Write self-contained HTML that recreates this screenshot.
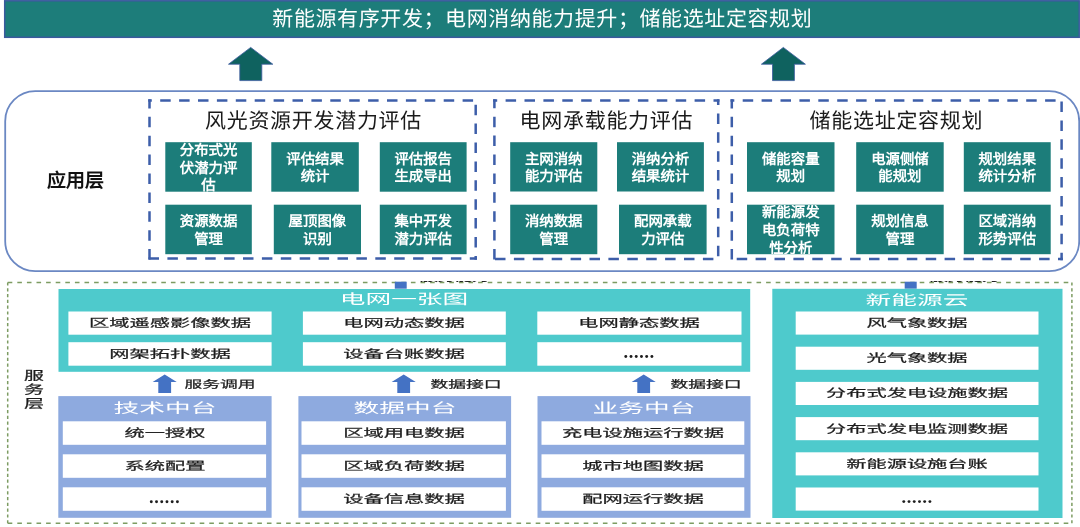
<!DOCTYPE html>
<html lang="zh-CN"><head><meta charset="utf-8"><title>diagram</title><style>
*{margin:0;padding:0;box-sizing:border-box}
html,body{width:1080px;height:527px;overflow:hidden;background:#fff}
body{position:relative;font-family:"Liberation Sans",sans-serif;text-rendering:geometricPrecision}
svg{position:absolute;left:0;top:0}
#wrap{position:absolute;left:0;top:0;width:1080px;height:527px;filter:blur(0.35px)}
.tb{position:absolute;display:flex;align-items:center;justify-content:center;overflow:hidden;color:#fff;font-weight:bold;font-size:14.4px;line-height:17.6px;text-align:center}
.tb span{display:block;white-space:nowrap;position:relative;top:2.4px}
.t0,.t1,.t2,.st,.sw,.sl{position:absolute;display:flex;align-items:center;justify-content:center;white-space:nowrap}
.t0{color:#fff;font-size:21px;letter-spacing:0.6px}
.t1{color:#1a1a1a;font-size:21px;letter-spacing:0.7px}
.t2{color:#111;font-size:19px;font-weight:bold}
.st{color:#1c1c1c;font-size:11.5px;-webkit-text-stroke:0.22px #1c1c1c;transform:scaleX(1.76)}
.sw{color:#fff;font-size:14px;transform:scaleX(1.835)}
.sl{color:#1c1c1c;font-size:10.6px;padding-top:1.6px;-webkit-text-stroke:0.22px #1c1c1c;transform:scaleX(1.68)}
.vl{position:absolute;color:#1c1c1c;font-size:12.5px;line-height:13.9px;text-align:center;transform:scaleX(1.6);-webkit-text-stroke:0.22px #1c1c1c}
.frag{position:absolute;overflow:hidden}
.fi{position:absolute;left:0;bottom:0;width:80px;text-align:center;color:#222;font-weight:bold;font-size:10.6px;line-height:12px;transform:scaleX(1.64)}
</style></head>
<body>
<div id="wrap">
<svg width="1080" height="527" viewBox="0 0 1080 527">
<rect x="4.7" y="0.8" width="1074.50" height="36.50" fill="#1d7d7a" stroke="#3b5a9e" stroke-width="1.5"/>
<polygon points="250.7,47.4 272.8,64.2 261.8,64.2 261.8,80.6 239.8,80.6 239.8,64.2 228.5,64.2" fill="#0f625f" stroke="#3b5a9e" stroke-width="0.8" stroke-linejoin="miter"/>
<polygon points="783.3,47.4 805.4,64.2 794.4,64.2 794.4,80.6 772.5,80.6 772.5,64.2 761.4,64.2" fill="#0f625f" stroke="#3b5a9e" stroke-width="0.8" stroke-linejoin="miter"/>
<rect x="5.2" y="91.2" width="1074" height="180" rx="30" ry="30" fill="#fff" stroke="#6b88c3" stroke-width="1.8"/>
<line x1="148.25" y1="100.60" x2="476.95" y2="100.60" stroke="#3d5ea9" stroke-width="2.5" stroke-dasharray="10.5 8.4" stroke-dashoffset="6.95"/>
<line x1="149.50" y1="99.35" x2="149.50" y2="259.75" stroke="#3d5ea9" stroke-width="2.5" stroke-dasharray="10.5 8.4" stroke-dashoffset="1.45"/>
<line x1="475.70" y1="99.35" x2="475.70" y2="259.75" stroke="#3d5ea9" stroke-width="2.5" stroke-dasharray="10.5 8.4" stroke-dashoffset="13.55"/>
<line x1="148.25" y1="258.50" x2="476.95" y2="258.50" stroke="#3d5ea9" stroke-width="2.5" stroke-dasharray="10.5 8.4" stroke-dashoffset="18.65"/>
<line x1="493.15" y1="100.50" x2="719.45" y2="100.50" stroke="#3d5ea9" stroke-width="2.5" stroke-dasharray="10.5 8.4" stroke-dashoffset="6.45"/>
<line x1="494.40" y1="99.25" x2="494.40" y2="260.15" stroke="#3d5ea9" stroke-width="2.5" stroke-dasharray="10.5 8.4" stroke-dashoffset="1.45"/>
<line x1="718.20" y1="99.25" x2="718.20" y2="260.15" stroke="#3d5ea9" stroke-width="2.5" stroke-dasharray="10.5 8.4" stroke-dashoffset="4.75"/>
<line x1="493.15" y1="258.90" x2="719.45" y2="258.90" stroke="#3d5ea9" stroke-width="2.5" stroke-dasharray="10.5 8.4" stroke-dashoffset="17.05"/>
<line x1="730.55" y1="100.60" x2="1062.85" y2="100.60" stroke="#3d5ea9" stroke-width="2.5" stroke-dasharray="10.5 8.4" stroke-dashoffset="6.75"/>
<line x1="731.80" y1="99.35" x2="731.80" y2="260.15" stroke="#3d5ea9" stroke-width="2.5" stroke-dasharray="10.5 8.4" stroke-dashoffset="1.45"/>
<line x1="1061.60" y1="99.35" x2="1061.60" y2="260.15" stroke="#3d5ea9" stroke-width="2.5" stroke-dasharray="10.5 8.4" stroke-dashoffset="16.75"/>
<line x1="730.55" y1="258.90" x2="1062.85" y2="258.90" stroke="#3d5ea9" stroke-width="2.5" stroke-dasharray="10.5 8.4" stroke-dashoffset="12.75"/>
<rect x="165.3" y="142.2" width="86.50" height="49.50" fill="#1c7d7a" />
<rect x="271.3" y="142.2" width="87.50" height="49.50" fill="#1c7d7a" />
<rect x="379.8" y="142.2" width="86.80" height="49.50" fill="#1c7d7a" />
<rect x="165.3" y="204.7" width="86.50" height="49.50" fill="#1c7d7a" />
<rect x="273.8" y="204.7" width="87.20" height="49.50" fill="#1c7d7a" />
<rect x="379.8" y="204.7" width="86.80" height="49.50" fill="#1c7d7a" />
<rect x="510.2" y="142.2" width="87.10" height="49.30" fill="#1c7d7a" />
<rect x="617.0" y="142.2" width="86.90" height="49.30" fill="#1c7d7a" />
<rect x="510.2" y="204.7" width="87.10" height="49.50" fill="#1c7d7a" />
<rect x="619.0" y="204.7" width="87.60" height="49.50" fill="#1c7d7a" />
<rect x="747.0" y="142.2" width="87.50" height="49.50" fill="#1c7d7a" />
<rect x="856.2" y="142.2" width="87.50" height="49.50" fill="#1c7d7a" />
<rect x="963.8" y="142.2" width="86.90" height="49.50" fill="#1c7d7a" />
<rect x="747.0" y="204.7" width="87.50" height="49.50" fill="#1c7d7a" />
<rect x="856.2" y="204.7" width="87.50" height="49.50" fill="#1c7d7a" />
<rect x="963.8" y="204.7" width="86.90" height="49.50" fill="#1c7d7a" />
<path d="M7.7,282.4 H1071.9 M7.7,523.2 H1071.9" fill="none" stroke="#7d9c62" stroke-width="1.5" stroke-dasharray="4.6 5"/>
<path d="M7.7,282.4 V523.2 M1071.9,282.4 V523.2" fill="none" stroke="#7d9c62" stroke-width="1.5" stroke-dasharray="3.2 2.6"/>
<rect x="394.8" y="281.7" width="11.90" height="7.00" fill="#4472c4" />
<rect x="904.7" y="281.7" width="12.00" height="7.00" fill="#4472c4" />
<rect x="58.5" y="289.0" width="691.70" height="82.80" fill="#4ecacc" />
<rect x="772.3" y="288.8" width="290.20" height="229.20" fill="#4ecacc" />
<rect x="68.4" y="311.5" width="203.20" height="23.20" fill="#fff" />
<rect x="68.4" y="342.2" width="203.20" height="23.50" fill="#fff" />
<rect x="302.9" y="311.5" width="202.90" height="23.20" fill="#fff" />
<rect x="302.9" y="342.2" width="202.90" height="23.50" fill="#fff" />
<rect x="537.3" y="311.5" width="204.20" height="23.20" fill="#fff" />
<rect x="537.3" y="342.2" width="204.20" height="23.50" fill="#fff" />
<rect x="795.7" y="311.5" width="242.80" height="23.10" fill="#fff" />
<rect x="795.7" y="346.7" width="242.80" height="23.10" fill="#fff" />
<rect x="795.7" y="381.9" width="242.80" height="23.10" fill="#fff" />
<rect x="795.7" y="417.1" width="242.80" height="23.10" fill="#fff" />
<rect x="795.7" y="452.3" width="242.80" height="23.10" fill="#fff" />
<rect x="795.7" y="487.5" width="242.80" height="23.10" fill="#fff" />
<rect x="58.3" y="396.1" width="213.30" height="121.70" fill="#8eaadf" />
<rect x="62.8" y="421.3" width="203.30" height="23.50" fill="#fff" />
<rect x="62.8" y="454.3" width="203.30" height="23.50" fill="#fff" />
<rect x="62.8" y="487.3" width="203.30" height="23.50" fill="#fff" />
<rect x="298.4" y="396.1" width="212.70" height="121.70" fill="#8eaadf" />
<rect x="301.5" y="421.3" width="204.40" height="23.50" fill="#fff" />
<rect x="301.5" y="454.3" width="204.40" height="23.50" fill="#fff" />
<rect x="301.5" y="487.3" width="204.40" height="23.50" fill="#fff" />
<rect x="537.5" y="396.1" width="213.00" height="121.70" fill="#8eaadf" />
<rect x="541.5" y="421.3" width="202.80" height="23.50" fill="#fff" />
<rect x="541.5" y="454.3" width="202.80" height="23.50" fill="#fff" />
<rect x="541.5" y="487.3" width="202.80" height="23.50" fill="#fff" />
<polygon points="164.7,374.4 176.75,381.9 171.1,381.9 171.1,393 158.29999999999998,393 158.29999999999998,381.9 152.64999999999998,381.9" fill="#4472c4"/>
<polygon points="403.7,374.4 415.75,381.9 410.09999999999997,381.9 410.09999999999997,393 397.3,393 397.3,381.9 391.65,381.9" fill="#4472c4"/>
<polygon points="643.7,374.4 655.75,381.9 650.1,381.9 650.1,393 637.3000000000001,393 637.3000000000001,381.9 631.6500000000001,381.9" fill="#4472c4"/>
<circle cx="151.30" cy="501.7" r="1.45" fill="#1e1e1e"/>
<circle cx="156.52" cy="501.7" r="1.45" fill="#1e1e1e"/>
<circle cx="161.74" cy="501.7" r="1.45" fill="#1e1e1e"/>
<circle cx="166.96" cy="501.7" r="1.45" fill="#1e1e1e"/>
<circle cx="172.18" cy="501.7" r="1.45" fill="#1e1e1e"/>
<circle cx="177.40" cy="501.7" r="1.45" fill="#1e1e1e"/>
<circle cx="625.80" cy="356.5" r="1.45" fill="#1e1e1e"/>
<circle cx="631.02" cy="356.5" r="1.45" fill="#1e1e1e"/>
<circle cx="636.24" cy="356.5" r="1.45" fill="#1e1e1e"/>
<circle cx="641.46" cy="356.5" r="1.45" fill="#1e1e1e"/>
<circle cx="646.68" cy="356.5" r="1.45" fill="#1e1e1e"/>
<circle cx="651.90" cy="356.5" r="1.45" fill="#1e1e1e"/>
<circle cx="903.80" cy="501.6" r="1.45" fill="#1e1e1e"/>
<circle cx="909.02" cy="501.6" r="1.45" fill="#1e1e1e"/>
<circle cx="914.24" cy="501.6" r="1.45" fill="#1e1e1e"/>
<circle cx="919.46" cy="501.6" r="1.45" fill="#1e1e1e"/>
<circle cx="924.68" cy="501.6" r="1.45" fill="#1e1e1e"/>
<circle cx="929.90" cy="501.6" r="1.45" fill="#1e1e1e"/>
</svg>
<div class="tb" style="left:165.3px;top:142.2px;width:86.5px;height:49.5px"><span>分布式光<br>伏潜力评<br>估</span></div>
<div class="tb" style="left:271.3px;top:142.2px;width:87.5px;height:49.5px"><span>评估结果<br>统计</span></div>
<div class="tb" style="left:379.8px;top:142.2px;width:86.8px;height:49.5px"><span>评估报告<br>生成导出</span></div>
<div class="tb" style="left:165.3px;top:204.7px;width:86.5px;height:49.5px"><span>资源数据<br>管理</span></div>
<div class="tb" style="left:273.8px;top:204.7px;width:87.2px;height:49.5px"><span>屋顶图像<br>识别</span></div>
<div class="tb" style="left:379.8px;top:204.7px;width:86.8px;height:49.5px"><span>集中开发<br>潜力评估</span></div>
<div class="tb" style="left:510.2px;top:142.2px;width:87.1px;height:49.3px"><span>主网消纳<br>能力评估</span></div>
<div class="tb" style="left:617.0px;top:142.2px;width:86.9px;height:49.3px"><span>消纳分析<br>结果统计</span></div>
<div class="tb" style="left:510.2px;top:204.7px;width:87.1px;height:49.5px"><span>消纳数据<br>管理</span></div>
<div class="tb" style="left:619.0px;top:204.7px;width:87.6px;height:49.5px"><span>配网承载<br>力评估</span></div>
<div class="tb" style="left:747.0px;top:142.2px;width:87.5px;height:49.5px"><span>储能容量<br>规划</span></div>
<div class="tb" style="left:856.2px;top:142.2px;width:87.5px;height:49.5px"><span>电源侧储<br>能规划</span></div>
<div class="tb" style="left:963.8px;top:142.2px;width:86.9px;height:49.5px"><span>规划结果<br>统计分析</span></div>
<div class="tb" style="left:747.0px;top:204.7px;width:87.5px;height:49.5px"><span>新能源发<br>电负荷特<br>性分析</span></div>
<div class="tb" style="left:856.2px;top:204.7px;width:87.5px;height:49.5px"><span>规划信息<br>管理</span></div>
<div class="tb" style="left:963.8px;top:204.7px;width:86.9px;height:49.5px"><span>区域消纳<br>形势评估</span></div>
<div class="t1" style="left:113.5px;top:104.5px;width:400px;height:30px">风光资源开发潜力评估</div>
<div class="t1" style="left:406.4px;top:104.5px;width:400px;height:30px">电网承载能力评估</div>
<div class="t1" style="left:696.4px;top:104.5px;width:400px;height:30px">储能选址定容规划</div>
<div class="t2" style="left:25.6px;top:164.3px;width:100px;height:30px">应用层</div>
<div class="t0" style="left:192.3px;top:2.8px;width:700px;height:30px">新能源有序开发；电网消纳能力提升；储能选址定容规划</div>
<div class="st" style="left:-30.0px;top:308.1px;width:400px;height:30px">区域遥感影像数据</div>
<div class="st" style="left:-30.0px;top:338.9px;width:400px;height:30px">网架拓扑数据</div>
<div class="st" style="left:204.4px;top:308.1px;width:400px;height:30px">电网动态数据</div>
<div class="st" style="left:204.4px;top:338.9px;width:400px;height:30px">设备台账数据</div>
<div class="st" style="left:439.4px;top:308.1px;width:400px;height:30px">电网静态数据</div>
<div class="sw" style="left:204.3px;top:284.4px;width:400px;height:30px">电网一张图</div>
<div class="sw" style="left:716.5px;top:284.8px;width:400px;height:30px">新能源云</div>
<div class="st" style="left:717.1px;top:308.1px;width:400px;height:30px">风气象数据</div>
<div class="st" style="left:717.1px;top:343.2px;width:400px;height:30px">光气象数据</div>
<div class="st" style="left:717.1px;top:378.4px;width:400px;height:30px">分布式发电设施数据</div>
<div class="st" style="left:717.1px;top:413.7px;width:400px;height:30px">分布式发电监测数据</div>
<div class="st" style="left:717.1px;top:448.9px;width:400px;height:30px">新能源设施台账</div>
<div class="sw" style="left:-35.0px;top:392.5px;width:400px;height:30px">技术中台</div>
<div class="st" style="left:-35.5px;top:418.1px;width:400px;height:30px">统一授权</div>
<div class="st" style="left:-35.5px;top:451.1px;width:400px;height:30px">系统配置</div>
<div class="sw" style="left:204.8px;top:392.5px;width:400px;height:30px">数据中台</div>
<div class="st" style="left:203.7px;top:418.1px;width:400px;height:30px">区域用电数据</div>
<div class="st" style="left:203.7px;top:451.1px;width:400px;height:30px">区域负荷数据</div>
<div class="st" style="left:203.7px;top:484.1px;width:400px;height:30px">设备信息数据</div>
<div class="sw" style="left:444.0px;top:392.5px;width:400px;height:30px">业务中台</div>
<div class="st" style="left:442.9px;top:418.1px;width:400px;height:30px">充电设施运行数据</div>
<div class="st" style="left:442.9px;top:451.1px;width:400px;height:30px">城市地图数据</div>
<div class="st" style="left:442.9px;top:484.1px;width:400px;height:30px">配网运行数据</div>
<div class="sl" style="left:19.5px;top:368.5px;width:400px;height:30px">服务调用</div>
<div class="sl" style="left:265.5px;top:368.4px;width:400px;height:30px">数据接口</div>
<div class="sl" style="left:506.1px;top:368.4px;width:400px;height:30px">数据接口</div>
<div class="vl" style="left:18px;top:370px;width:32px">服<br>务<br>层</div>
<div class="frag" style="left:415px;top:280.8px;width:80px;height:3.4px"><div class="fi">服务能力</div></div>
<div class="frag" style="left:925px;top:280.8px;width:80px;height:3.4px"><div class="fi">服务能力</div></div>
</div>
</body></html>
